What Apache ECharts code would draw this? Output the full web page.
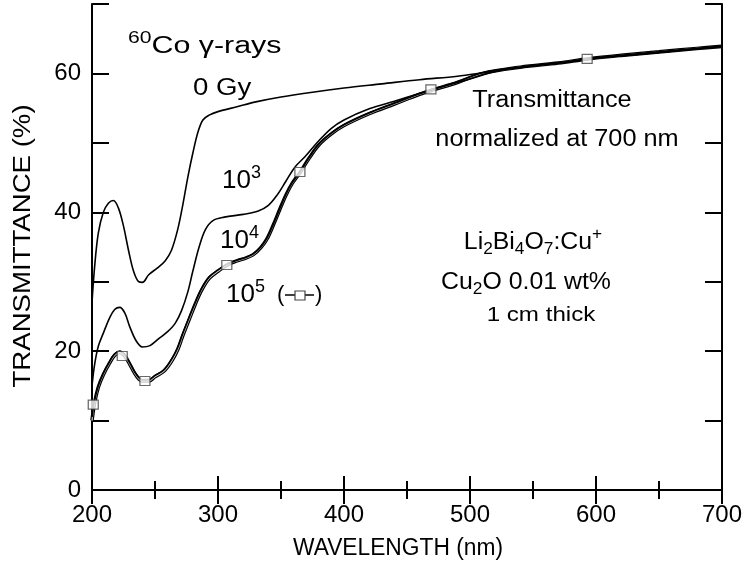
<!DOCTYPE html>
<html>
<head>
<meta charset="utf-8">
<script src="https://cdn.jsdelivr.net/npm/echarts@6/dist/echarts.min.js"></script>
<style>html,body{margin:0;padding:0;background:#fff;}#chart{width:745px;height:574px;}</style>
</head>
<body>
<div id="chart"></div>
<script>
// ---- data (wavelength nm, transmittance %) ----
const gy0 = [[200,27],[202,32],[205,37],[209,40],[213,41.3],[217,41.7],[221,40.6],[225,38],[229,34.5],[233,31.5],[237,30],[240,29.9],[245,31],[252,32],[258,33],[263,34.5],[268,37.5],[272,41],[276,45],[280,48.5],[284,51.5],[288,53.3],[293,54],[300,54.5],[315,55.2],[330,55.9],[350,56.6],[375,57.3],[400,57.9],[430,58.5],[460,59.1],[490,59.6],[510,60.1],[540,60.9],[570,61.5],[600,62.2],[630,62.7],[660,63.2],[700,63.9]];
const gy1e3 = [[200,15],[202,18],[205,20.7],[209,22.6],[214,24.8],[218,26],[222,26.3],[226,25.5],[230,23.5],[235,21.5],[240,20.6],[246,20.8],[253,21.8],[260,22.8],[266,24],[271,25.8],[276,28.5],[280,31.5],[285,35],[290,37.5],[296,38.8],[305,39.3],[320,39.7],[332,40.2],[340,41],[347,42.5],[354,44.5],[361,46.5],[369,48],[380,50.3],[390,52.1],[400,53.3],[420,54.9],[440,56],[460,57.1],[480,58.2],[500,59.2],[520,60.3],[550,61.1],[580,61.7],[600,62.2],[630,62.7],[660,63.2],[700,63.9]];
const gy1e4 = [[200,10.5],[202,12.8],[205,15],[209,16.8],[214,18.5],[218,19.6],[222,20],[226,19.5],[230,18.3],[235,16.7],[240,15.9],[245,15.9],[250,16.5],[257,17.3],[263,18.8],[268,20.5],[272,22.5],[277,24.8],[282,27],[287,29],[293,30.7],[300,31.7],[307,32.5],[315,33.1],[322,33.5],[328,34],[334,35],[339,36.3],[344,38.3],[349,40.5],[354,42.6],[359,44.3],[365,45.8],[372,47.8],[380,49.8],[390,51.4],[400,52.6],[420,54.3],[440,55.7],[460,57.1],[470,57.7],[490,58.8],[510,60.1],[540,60.9],[570,61.5],[594,62.1],[620,62.6],[650,63.1],[680,63.6],[700,63.9]];
const gy1e5 = [[200,10],[202,12.5],[205,14.8],[209,16.6],[214,18.3],[218,19.4],[222,19.8],[226,19.3],[230,18.1],[235,16.5],[240,15.7],[245,15.7],[250,16.3],[257,17.1],[263,18.5],[268,20.2],[272,22.2],[277,24.5],[282,26.8],[287,28.8],[293,30.5],[300,31.5],[307,32.4],[315,33],[322,33.4],[328,33.9],[334,34.9],[339,36.2],[344,38.2],[349,40.4],[354,42.5],[359,44.2],[365,45.7],[372,47.7],[380,49.7],[390,51.3],[400,52.5],[420,54.2],[440,55.6],[460,57],[470,57.6],[490,58.7],[510,60],[540,60.9],[570,61.5],[594,62.1],[620,62.6],[650,63.1],[680,63.6],[700,63.9]];
const markers1e5 = [[201,12.3],[224,19.3],[242,15.7],[307,32.4],[365,45.8],[469,57.7],[593,62.1]];
const xTickLabels = [200,300,400,500,600,700];
const yTickLabels = [0,20,40,60];

const FONT = 'Liberation Sans, Arial, sans-serif';
const chart = echarts.init(document.getElementById('chart'), null, {renderer:'canvas'});

function txt(text, x, baseline, size, sx, align, rich) {
  return {type:'text', x:x, y:baseline - 0.34*size, scaleX:sx, z:100,
    style:{text:text, fontSize:size, fontFamily:FONT, fill:'#000', lineHeight: size*1.35,
      textAlign:align||'left', textVerticalAlign:'middle', rich:rich||{}}};
}
function richFor(size){
  const s = Math.round(size*0.68);
  return {
    sup:{fontSize:s, fontFamily:FONT, fill:'#000', lineHeight:s, verticalAlign:'top'},
    sub:{fontSize:s, fontFamily:FONT, fill:'#000', lineHeight:s, verticalAlign:'bottom'}
  };
}

const axisLine = {show:true, lineStyle:{color:'#000', width:2}};
function xAxis(pos, labels){
  return {type:'value', position:pos, min:200, max:700, interval:100,
    axisLine:axisLine, splitLine:{show:false},
    axisTick:{show:true, inside:true, length:14, lineStyle:{color:'#000', width:2}},
    minorTick:{show:true, splitNumber:2, length:9, lineStyle:{color:'#000', width:2}},
    minorSplitLine:{show:false},
    axisLabel:{show:labels, fontSize:24, fontFamily:FONT, color:'#000', margin:13,
      showMinLabel:true, showMaxLabel:true,
      formatter:function(v){return xTickLabels.indexOf(v)>=0 ? String(v) : '';}}
  };
}
function yAxis(pos, labels){
  return {type:'value', position:pos, min:0, max:70, interval:10,
    axisLine:axisLine, splitLine:{show:false},
    axisTick:{show:true, inside:true, length:17, lineStyle:{color:'#000', width:2}},
    axisLabel:{show:labels, fontSize:24, fontFamily:FONT, color:'#000', margin:11,
      showMinLabel:true, showMaxLabel:true,
      formatter:function(v){return yTickLabels.indexOf(v)>=0 ? String(v) : '';}}
  };
}
function line(name, data, color, width, z){
  return {name:name, type:'line', data:data, smooth:0.35, showSymbol:false, symbol:'none',
    lineStyle:{color:color, width:width}, z:z, silent:true};
}

const r23 = richFor(23), r25 = richFor(26);
const option = {
  animation:false,
  backgroundColor:'#fff',
  grid:{left:92, right:18, top:4, bottom:84, containLabel:false},
  xAxis:[xAxis('bottom', true), xAxis('top', false)],
  yAxis:[yAxis('left', true), yAxis('right', false)],
  series:[
    line('10^5', gy1e5, '#000', 3.6, 2),
    line('10^5 inner', gy1e5, '#d0d0d0', 1.2, 3),
    line('10^4', gy1e4, '#000', 1.6, 4),
    line('10^3', gy1e3, '#000', 1.6, 4),
    line('0 Gy', gy0, '#000', 1.6, 4),
    {name:'10^5 markers', type:'scatter', data:markers1e5, symbol:'rect', symbolSize:[10,9],
      itemStyle:{color:'#fff', borderColor:'#444', borderWidth:1.2}, z:6, silent:true}
  ],
  graphic:[
    txt('{sup|60}Co γ-rays', 128, 54, 23, 1.32, 'left', r23),
    txt('0 Gy', 193, 96, 23, 1.2, 'left'),
    txt('10{sup|3}', 222, 190, 26, 1.0, 'left', r25),
    txt('10{sup|4}', 220, 250, 26, 1.0, 'left', r25),
    txt('10{sup|5}', 226, 304, 26, 1.0, 'left', r25),
    txt('(', 277, 302, 22, 1, 'left'),
    txt(')', 315, 302, 22, 1, 'left'),
    {type:'line', shape:{x1:285, y1:295, x2:314, y2:295}, style:{stroke:'#000', lineWidth:1.5}, z:100},
    {type:'rect', shape:{x:295, y:291, width:10, height:9}, style:{fill:'#fff', stroke:'#444', lineWidth:1.2}, z:101},
    txt('Transmittance', 552, 108, 23, 1.1, 'center'),
    txt('normalized at 700 nm', 557, 147, 23, 1.1, 'center'),
    txt('Li{sub|2}Bi{sub|4}O{sub|7}:Cu{sup|+}', 533, 250, 23, 1.08, 'center', r23),
    txt('Cu{sub|2}O 0.01 wt%', 526, 290, 23, 1.08, 'center', r23),
    txt('1 cm thick', 541, 322, 21, 1.15, 'center'),
    {type:'text', x:24, y:246, rotation:Math.PI/2, scaleX:1.2, z:100,
      style:{text:'TRANSMITTANCE (%)', fontSize:23, fontFamily:FONT, fill:'#000', textAlign:'center', textVerticalAlign:'middle'}},
    {type:'text', x:398, y:549, scaleX:0.99, z:100,
      style:{text:'WAVELENGTH (nm)', fontSize:23, fontFamily:FONT, fill:'#000', textAlign:'center', textVerticalAlign:'middle'}}
  ]
};
chart.setOption(option);
</script>
</body>
</html>
